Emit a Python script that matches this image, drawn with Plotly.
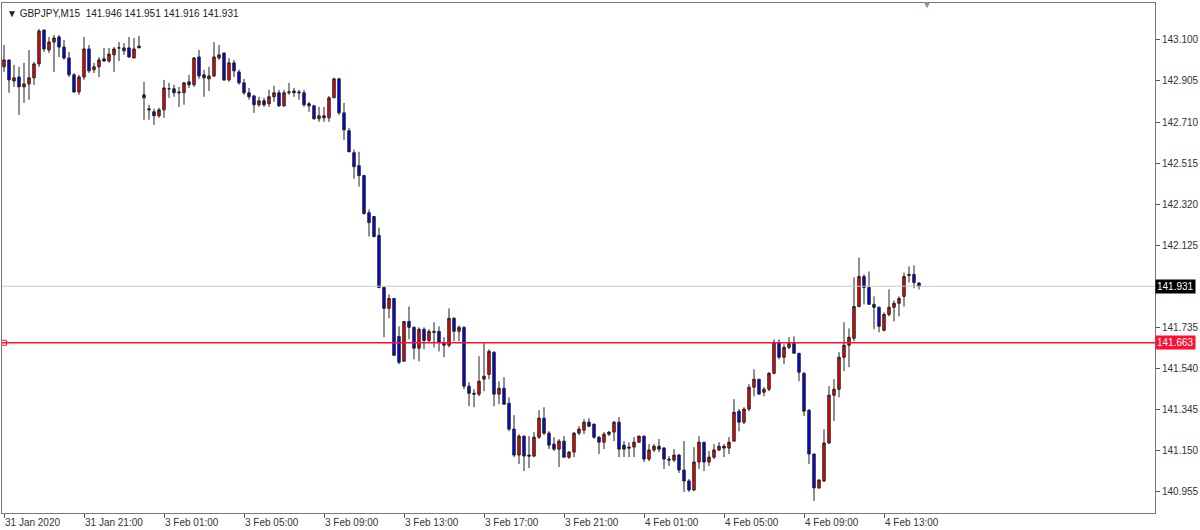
import plotly.graph_objects as go

# GBPJPY M15, 31 Jan 2020 17:00 onward (one bar every 15 min, weekend skipped)
opens = [142.972,143.005,142.905,142.924,142.877,142.891,142.920,142.986,143.147,143.052,
         143.090,143.114,143.066,143.014,142.934,142.853,142.924,143.057,142.958,142.972,
         143.010,143.000,143.029,143.062,143.048,143.062,143.014,143.062,142.839,142.773,
         142.759,142.740,142.768,142.868,142.868,142.853,142.849,142.901,142.887,143.019,
         142.934,142.915,142.929,143.014,143.038,142.910,142.991,142.948,142.896,142.849,
         142.834,142.792,142.811,142.797,142.830,142.849,142.787,142.849,142.858,142.853,
         142.849,142.797,142.787,142.726,142.740,142.730,142.825,142.915,142.754,142.669,
         142.565,142.503,142.456,142.280,142.262,142.172,141.925,141.826,141.873,141.693,
         141.575,141.764,141.736,141.637,141.727,141.674,141.717,141.717,141.660,141.651,
         141.779,141.717,141.736,141.457,141.423,141.419,141.490,141.513,141.618,141.419,
         141.447,141.376,141.253,141.130,141.220,141.130,141.125,141.215,141.305,141.234,
         141.182,141.158,141.196,141.120,141.144,141.234,141.248,141.286,141.277,141.215,
         141.191,141.229,141.239,141.286,141.177,141.168,141.168,141.191,141.220,141.111,
         141.154,141.172,141.163,141.111,141.106,141.130,141.059,141.007,140.964,141.097,
         141.191,141.097,141.120,141.154,141.172,141.163,141.196,141.338,141.286,141.348,
         141.452,141.490,141.428,141.442,141.518,141.665,141.594,141.641,141.660,141.613,
         141.518,141.343,141.135,140.974,141.007,141.187,141.414,141.442,141.594,141.651,
         141.684,141.835,141.977,141.925,141.845,141.831,141.722,141.797,141.831,141.850,
         141.883,141.982,141.987,141.946]
highs = [143.076,143.005,142.981,142.972,142.991,143.052,142.995,143.152,143.147,143.114,
         143.123,143.123,143.100,143.043,142.943,142.934,143.114,143.076,142.991,143.019,
         143.062,143.062,143.066,143.090,143.085,143.114,143.109,143.119,142.901,142.792,
         142.773,142.778,142.910,142.896,142.887,142.877,142.901,142.934,143.019,143.052,
         142.958,142.972,143.090,143.076,143.038,143.014,143.005,142.958,142.915,142.872,
         142.839,142.830,142.825,142.863,142.882,142.863,142.863,142.896,142.872,142.863,
         142.863,142.806,142.792,142.782,142.782,142.834,142.920,142.920,142.801,142.683,
         142.579,142.569,142.460,142.295,142.262,142.209,141.930,141.892,141.873,141.741,
         141.764,141.835,141.741,141.736,141.736,141.727,141.760,141.741,141.689,141.826,
         141.784,141.745,141.741,141.476,141.442,141.599,141.665,141.632,141.622,141.480,
         141.499,141.404,141.319,141.229,141.220,141.220,141.239,141.343,141.357,141.243,
         141.215,141.206,141.220,141.149,141.239,141.267,141.300,141.305,141.277,141.220,
         141.239,141.243,141.291,141.310,141.196,141.191,141.215,141.220,141.220,141.182,
         141.182,141.206,141.168,141.125,141.158,141.135,141.196,141.016,141.168,141.220,
         141.191,141.149,141.182,141.191,141.182,141.215,141.395,141.348,141.357,141.466,
         141.537,141.490,141.452,141.523,141.679,141.679,141.655,141.689,141.693,141.613,
         141.523,141.348,141.135,141.016,141.253,141.457,141.490,141.618,141.760,141.731,
         141.973,142.067,141.987,142.001,141.883,141.835,141.807,141.916,141.864,141.883,
         141.996,142.025,142.030,141.951]
lows = [142.948,142.849,142.877,142.744,142.801,142.816,142.887,142.972,143.043,143.038,
        142.948,143.019,143.005,142.924,142.849,142.839,142.910,142.943,142.943,142.924,
        142.995,142.991,142.948,143.000,143.029,143.014,143.014,143.062,142.721,142.721,
        142.697,142.730,142.730,142.825,142.830,142.782,142.792,142.872,142.877,142.915,
        142.830,142.858,142.924,143.005,142.905,142.901,142.924,142.887,142.839,142.816,
        142.754,142.782,142.782,142.782,142.806,142.782,142.782,142.839,142.830,142.816,
        142.782,142.759,142.721,142.711,142.711,142.711,142.825,142.744,142.626,142.569,
        142.441,142.404,142.271,142.167,142.162,141.921,141.689,141.779,141.603,141.561,
        141.575,141.679,141.584,141.575,141.632,141.665,141.641,141.622,141.594,141.641,
        141.670,141.670,141.442,141.362,141.357,141.409,141.433,141.490,141.362,141.371,
        141.371,141.243,141.120,141.087,141.054,141.068,141.120,141.206,141.225,141.158,
        141.149,141.073,141.120,141.111,141.120,141.225,141.229,141.262,141.206,141.135,
        141.158,141.220,141.196,141.120,141.120,141.120,141.120,141.191,141.097,141.101,
        141.144,141.144,141.064,141.078,141.097,141.045,140.955,140.955,140.959,141.064,
        141.054,141.078,141.111,141.149,141.120,141.135,141.196,141.243,141.277,141.338,
        141.409,141.419,141.409,141.433,141.513,141.584,141.561,141.632,141.613,141.480,
        141.315,141.087,140.912,140.969,141.002,141.182,141.291,141.404,141.528,141.547,
        141.670,141.831,141.845,141.845,141.727,141.712,141.717,141.788,141.764,141.788,
        141.835,141.949,141.921,141.916]
closes = [143.005,142.910,142.920,142.877,142.891,142.920,142.986,143.142,143.057,143.090,
          143.109,143.066,143.014,142.934,142.853,142.924,143.057,142.953,142.972,143.005,
          143.000,143.033,143.057,143.062,143.062,143.019,143.057,143.071,142.825,142.768,
          142.740,142.768,142.872,142.868,142.849,142.849,142.896,142.887,143.014,142.929,
          142.920,142.929,143.019,143.029,142.910,142.991,142.953,142.896,142.849,142.830,
          142.792,142.811,142.792,142.830,142.849,142.787,142.849,142.853,142.849,142.849,
          142.792,142.787,142.726,142.740,142.730,142.825,142.915,142.754,142.673,142.569,
          142.498,142.456,142.276,142.233,142.167,141.925,141.826,141.873,141.603,141.570,
          141.764,141.736,141.637,141.727,141.674,141.717,141.712,141.665,141.651,141.779,
          141.717,141.736,141.457,141.423,141.419,141.480,141.504,141.622,141.419,141.447,
          141.371,141.253,141.130,141.220,141.125,141.125,141.215,141.305,141.234,141.177,
          141.158,141.196,141.120,141.144,141.234,141.253,141.286,141.267,141.215,141.191,
          141.229,141.239,141.286,141.158,141.158,141.163,141.191,141.220,141.111,141.154,
          141.172,141.158,141.111,141.106,141.130,141.059,141.007,140.964,141.097,141.191,
          141.097,141.120,141.154,141.172,141.163,141.191,141.333,141.286,141.348,141.452,
          141.490,141.419,141.442,141.518,141.665,141.594,141.641,141.660,141.613,141.523,
          141.338,141.135,140.974,141.011,141.187,141.414,141.442,141.594,141.651,141.689,
          141.835,141.977,141.925,141.845,141.831,141.741,141.797,141.831,141.850,141.873,
          141.977,141.987,141.949,141.931]

tick_labels = ["31 Jan 2020", "31 Jan 21:00", "3 Feb 01:00", "3 Feb 05:00", "3 Feb 09:00",
               "3 Feb 13:00", "3 Feb 17:00", "3 Feb 21:00", "4 Feb 01:00", "4 Feb 05:00",
               "4 Feb 09:00", "4 Feb 13:00"]
# 141.930 sits under the bid box on the axis, so it is left out
price_ticks = [140.955, 141.150, 141.345, 141.540, 141.735, 142.125, 142.320,
               142.515, 142.710, 142.905, 143.100]
level_price = 141.663
bid_price = 141.931

bars = list(range(len(closes)))
tick_pos = [16 * i for i in range(len(tick_labels))]

fig = go.Figure(go.Candlestick(
    x=bars, open=opens, high=highs, low=lows, close=closes,
    increasing=dict(line=dict(color="#222222", width=1), fillcolor="#ff0000"),
    decreasing=dict(line=dict(color="#222222", width=1), fillcolor="#0000ff"),
    whiskerwidth=0, showlegend=False, hoverinfo="skip"))

fig.add_hline(y=bid_price, line=dict(color="#c8c8c8", width=1))
fig.add_hline(y=level_price, line=dict(color="#ff1030", width=1.5))
fig.add_trace(go.Scatter(x=[0], y=[level_price], mode="markers", showlegend=False,
                         marker=dict(symbol="square-open", size=5, color="#ff1030")))

fig.update_layout(
    width=1200, height=530,
    margin=dict(l=2, r=45, t=3, b=17, autoexpand=False),
    paper_bgcolor="white", plot_bgcolor="white",
    font=dict(family="Liberation Sans", size=10, color="#333333"),
    xaxis=dict(range=[-0.4, 230.2], rangeslider=dict(visible=False), showgrid=False,
               zeroline=False, tickvals=tick_pos, ticktext=tick_labels, automargin=False,
               ticks="outside", ticklen=4, tickcolor="#555", ticklabelposition="outside right",
               showline=True, linecolor="#777", mirror=True),
    yaxis=dict(side="right", range=[140.855, 143.275], showgrid=False, zeroline=False,
               tickvals=price_ticks, tickformat=".3f", ticks="outside", ticklen=4,
               automargin=False, tickcolor="#555", showline=True, linecolor="#777", mirror=True),
    annotations=[
        dict(text="▼ GBPJPY,M15  141.946 141.951 141.916 141.931", xref="paper", yref="paper",
             x=0.003, y=0.995, xanchor="left", yanchor="top", showarrow=False,
             font=dict(size=10, color="#222")),
        dict(text="▼", xref="x", yref="paper", x=184.5, y=1.012, showarrow=False,
             font=dict(size=10, color="#8090a0")),
        dict(text=f"{bid_price:.3f}", xref="paper", yref="y", x=1.0, y=bid_price,
             xanchor="left", showarrow=False, bgcolor="black", font=dict(color="white", size=10),
             borderpad=1),
        dict(text=f"{level_price:.3f}", xref="paper", yref="y", x=1.0, y=level_price,
             xanchor="left", showarrow=False, bgcolor="#ff1030", font=dict(color="white", size=10),
             borderpad=1),
    ],
)

fig.write_html("out.html", config={"displayModeBar": False},
               post_script="document.body.style.margin='0px';")
